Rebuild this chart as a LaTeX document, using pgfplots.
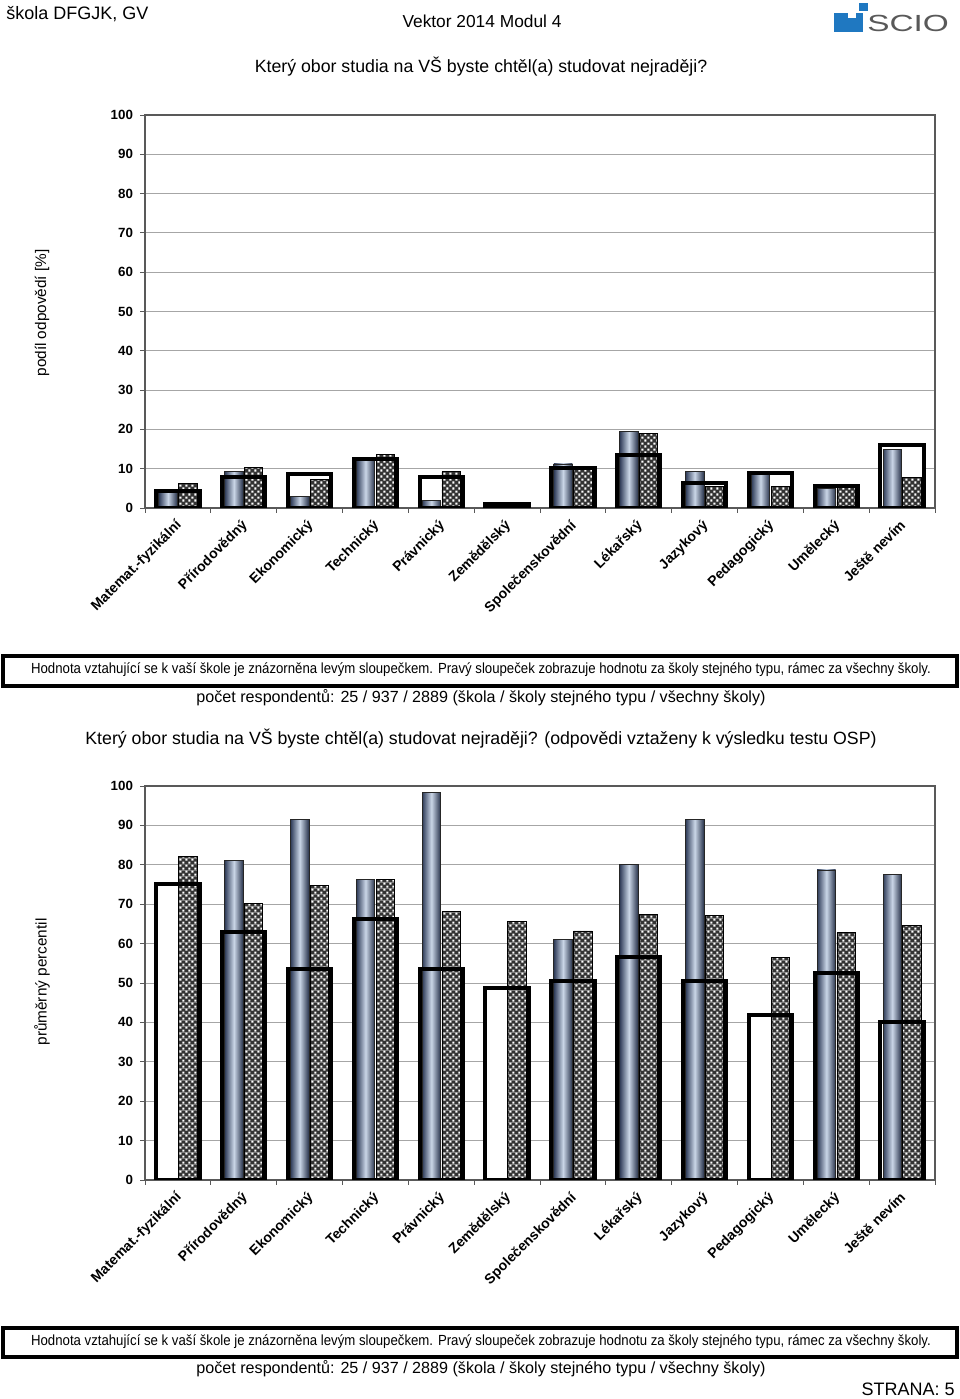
\documentclass[border=0pt]{standalone}
\usepackage{fontspec}
\setmainfont{Liberation Sans}
\newfontfamily\narrowfont[FakeStretch=0.9]{Liberation Sans}
\usepackage{pgfplots}
\pgfplotsset{compat=1.18}
\usetikzlibrary{patterns.meta}

\definecolor{bluedark}{HTML}{2E3B58}
\definecolor{bluelight}{HTML}{CAD6E7}
\definecolor{sciob}{HTML}{1F78C1}

\tikzdeclarepattern{
  name=wsq, type=colored,
  bottom left={(0pt,0pt)}, top right={(4.4pt,4.4pt)}, tile size={(4.4pt,4.4pt)},
  code={
    \fill[black!80] (0pt,0pt) rectangle (4.4pt,4.4pt);
    \fill[white] (0.3pt,0.3pt) rectangle (1.9pt,1.9pt);
    \fill[white] (2.5pt,2.5pt) rectangle (4.1pt,4.1pt);
  }
}

\pgfplotsset{
  chart/.style={
    scale only axis, width=592.5pt,
    xmin=-0.5, xmax=11.5, ymin=0, ymax=100,
    ytick={0,10,...,100},
    xtick={0,...,11},
    xticklabels={Matemat.-fyzikální, Přírodovědný, Ekonomický, Technický, Právnický, Zemědělský, Společenskovědní, Lékařský, Jazykový, Pedagogický, Umělecký, Ještě nevím},
    minor xtick={-0.5,0.5,...,11.5},
    major x tick style={draw=none},
    tick align=outside, tick pos=left,
    major tick length=3.5pt, minor tick length=3.5pt,
    tick style={gray!70!black, line width=0.6pt},
    ymajorgrids, grid style={gray!70, line width=0.7pt},
    axis line style={gray!70!black, line width=1pt},
    /pgf/number format/assume math mode=true,
    yticklabel style={font=\fontsize{10}{12}\selectfont\bfseries, xshift=-2pt},
    xticklabel style={xshift=-2.5pt, yshift=-3pt, rotate=45, anchor=north east, inner sep=1pt, font=\fontsize{10.5}{12}\selectfont\bfseries},
  },
  frameback/.style={ybar, bar width=0.66, bar shift=0, fill=white, draw=none},
  blueb/.style={ybar, bar width=0.28, bar shift=-0.15, draw=black!85, line width=0.6pt, left color=bluedark, right color=bluedark!85!black, middle color=bluelight},
  hatchb/.style={ybar, bar width=0.28, bar shift=0.15, draw=black, line width=0.6pt, pattern=wsq},
  framefront/.style={ybar, bar width=0.66, bar shift=0, draw=black, line width=3pt, fill=none},
}

\begin{document}
\begin{tikzpicture}
\begin{scope}[x=0.75pt,y=0.75pt]
  \path[use as bounding box] (0,0) rectangle (960,1399);
  % header
  \node[anchor=west, inner sep=0pt, font=\fontsize{13.5}{15}\selectfont] at (6,1385) {škola DFGJK, GV};
  \node[inner sep=0pt, font=\fontsize{13}{15}\selectfont] at (482,1378) {Vektor 2014 Modul 4};
  % logo
  \fill[sciob] (834,1367) rectangle (863,1386);
  \fill[white] (848,1381) rectangle (856,1386.5);
  \fill[sciob] (859,1388) rectangle (868,1396);
  \node[anchor=west, inner sep=0pt, text=black!65, font=\fontsize{17.5}{20}\selectfont] at (867,1376) {\scalebox{1.43}[1]{SCIO}};
  % titles
  \node[inner sep=0pt, font=\fontsize{13.3}{15}\selectfont] at (481,1332) {Který obor studia na VŠ byste chtěl(a) studovat nejraději?};
  \node[inner sep=0pt, font=\fontsize{13.3}{15}\selectfont] at (481,660) {Který obor studia na VŠ byste chtěl(a) studovat nejraději? (odpovědi vztaženy k výsledku testu OSP)};
  % boxes
  \draw[line width=3pt] (3,743) rectangle (957,713);
  \node[inner sep=0pt, font=\narrowfont\fontsize{11}{13}\selectfont] at (481,729) {Hodnota vztahující se k vaší škole je znázorněna levým sloupečkem. Pravý sloupeček zobrazuje hodnotu za školy stejného typu, rámec za všechny školy.};
  \node[inner sep=0pt, font=\fontsize{12.1}{14}\selectfont] at (481,701) {počet respondentů: 25 / 937 / 2889 (škola / školy stejného typu / všechny školy)};
  \draw[line width=3pt] (3,71) rectangle (957,42);
  \node[inner sep=0pt, font=\narrowfont\fontsize{11}{13}\selectfont] at (481,57) {Hodnota vztahující se k vaší škole je znázorněna levým sloupečkem. Pravý sloupeček zobrazuje hodnotu za školy stejného typu, rámec za všechny školy.};
  \node[inner sep=0pt, font=\fontsize{12.1}{14}\selectfont] at (481,30) {počet respondentů: 25 / 937 / 2889 (škola / školy stejného typu / všechny školy)};
  \node[anchor=east, inner sep=0pt, font=\fontsize{13.5}{15}\selectfont] at (955,10) {STRANA: 5};
  % y labels
  \node[rotate=90, inner sep=0pt, font=\fontsize{11.5}{13}\selectfont] at (42,1086) {podíl odpovědí [\%]};
  \node[rotate=90, inner sep=0pt, font=\fontsize{11.5}{13}\selectfont] at (42,417) {průměrný percentil};
\end{scope}

% top chart
\begin{axis}[chart, height=294.75pt, at={(108.75pt,668.25pt)}, anchor=south west]
  \addplot[frameback] coordinates {(0,4.2) (1,8.0) (2,8.6) (3,12.4) (4,8.0) (5,1.1) (6,10.1) (7,13.5) (8,6.3) (9,9.0) (10,5.6) (11,16.0)};
  \addplot[blueb] coordinates {(0,4.7)};
  \addplot[blueb] coordinates {(1,9.2)};
  \addplot[blueb] coordinates {(2,2.9)};
  \addplot[blueb] coordinates {(3,12.2)};
  \addplot[blueb] coordinates {(4,2.0)};
  \addplot[blueb] coordinates {(5,1.0)};
  \addplot[blueb] coordinates {(6,11.2)};
  \addplot[blueb] coordinates {(7,19.4)};
  \addplot[blueb] coordinates {(8,9.2)};
  \addplot[blueb] coordinates {(9,9.1)};
  \addplot[blueb] coordinates {(10,5.0)};
  \addplot[blueb] coordinates {(11,14.9)};
  \addplot[hatchb] coordinates {(0,6.3) (1,10.3) (2,7.3) (3,13.6) (4,9.2) (5,1.5) (6,9.7) (7,19.0) (8,5.4) (9,5.4) (10,5.6) (11,7.7)};
  \addplot[framefront] coordinates {(0,4.2) (1,8.0) (2,8.6) (3,12.4) (4,8.0) (5,1.1) (6,10.1) (7,13.5) (8,6.3) (9,9.0) (10,5.6) (11,16.0)};
\end{axis}

% bottom chart
\begin{axis}[chart, height=295.5pt, at={(108.75pt,164.25pt)}, anchor=south west]
  \addplot[frameback] coordinates {(0,75.0) (1,63.0) (2,53.6) (3,66.2) (4,53.6) (5,48.8) (6,50.5) (7,56.7) (8,50.5) (9,41.9) (10,52.5) (11,40.2)};
  \addplot[blueb] coordinates {(1,81.2)};
  \addplot[blueb] coordinates {(2,91.6)};
  \addplot[blueb] coordinates {(3,76.3)};
  \addplot[blueb] coordinates {(4,98.3)};
  \addplot[blueb] coordinates {(6,61.1)};
  \addplot[blueb] coordinates {(7,80.0)};
  \addplot[blueb] coordinates {(8,91.5)};
  \addplot[blueb] coordinates {(10,78.7)};
  \addplot[blueb] coordinates {(11,77.6)};
  \addplot[hatchb] coordinates {(0,82.2) (1,70.2) (2,74.7) (3,76.3) (4,68.1) (5,65.7) (6,63.2) (7,67.5) (8,67.1) (9,56.4) (10,62.8) (11,64.7)};
  \addplot[framefront] coordinates {(0,75.0) (1,63.0) (2,53.6) (3,66.2) (4,53.6) (5,48.8) (6,50.5) (7,56.7) (8,50.5) (9,41.9) (10,52.5) (11,40.2)};
\end{axis}
\end{tikzpicture}
\end{document}
